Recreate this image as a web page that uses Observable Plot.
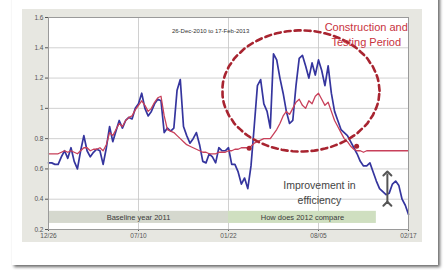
<!DOCTYPE html>
<html><head><meta charset="utf-8">
<script src="https://cdn.jsdelivr.net/npm/d3@7"></script>
<script src="https://cdn.jsdelivr.net/npm/@observablehq/plot@0.6"></script>
<style>
body{margin:0;background:#fff;font-family:"Liberation Sans",Arial,sans-serif}
#wrap{position:relative;width:444px;height:270px;overflow:hidden}
#photo{position:absolute;left:12px;top:-6px;width:426px;height:271px;background:#fff;box-shadow:2px 2px 3px rgba(0,0,0,0.6)}
#panel{position:absolute;left:22px;top:9px;width:400px;height:233px;background:#e7e7e1}
#chart{position:absolute;left:0;top:0}
</style></head>
<body>
<div id="wrap"><div id="photo"></div><div id="panel"></div><div id="chart"></div></div>
<script>
// weekly series, 26-Dec-2010 .. 17-Feb-2013
const startDate = "2010-12-26";
const endDate = "2013-02-17";
const actual = [0.64,0.64,0.63,0.63,0.68,0.72,0.67,0.74,0.65,0.60,
0.72,0.82,0.72,0.68,0.71,0.73,0.72,0.63,0.74,0.88,
0.78,0.85,0.92,0.87,0.92,0.94,0.93,1.00,1.03,1.10,
1.00,0.95,0.98,1.03,1.06,1.05,0.84,0.87,0.85,0.87,
1.12,1.19,0.88,0.82,0.77,0.80,0.84,0.76,0.65,0.64,
0.70,0.68,0.64,0.74,0.72,0.72,0.74,0.63,0.63,0.58,
0.50,0.54,0.47,0.62,0.88,1.15,1.19,1.03,0.98,0.87,
1.36,1.32,1.20,1.10,0.98,0.90,0.92,1.15,1.33,1.35,
1.28,1.20,1.30,1.22,1.32,1.25,1.15,1.28,1.10,0.98,
0.92,0.86,0.84,0.82,0.78,0.74,0.70,0.65,0.62,0.62,
0.64,0.58,0.52,0.47,0.45,0.43,0.44,0.50,0.52,0.49,
0.40,0.36,0.30];
const model = [0.70,0.70,0.70,0.70,0.71,0.72,0.71,0.72,0.71,0.70,
0.72,0.74,0.74,0.72,0.73,0.73,0.74,0.72,0.76,0.84,
0.82,0.86,0.90,0.88,0.92,0.94,0.95,0.99,1.02,1.05,
1.02,0.98,1.00,1.04,1.07,1.08,0.95,0.86,0.85,0.84,
0.82,0.80,0.78,0.76,0.75,0.74,0.73,0.72,0.71,0.71,
0.70,0.70,0.70,0.71,0.71,0.71,0.72,0.72,0.73,0.73,
0.74,0.74,0.74,0.75,0.77,0.78,0.79,0.80,0.80,0.80,
0.83,0.86,0.90,0.95,0.98,0.96,1.00,1.04,1.06,1.02,
1.00,1.05,1.03,1.08,1.10,1.06,1.02,1.04,0.98,0.92,
0.88,0.84,0.80,0.78,0.75,0.73,0.72,0.72,0.71,0.72,
0.72,0.72,0.72,0.72,0.72,0.72,0.72,0.72,0.72,0.72,
0.72,0.72,0.72];
const xTicks = ["2010-12-26","2011-07-10","2012-01-22","2012-08-05","2013-02-17"];
const yTicks = [0.2,0.4,0.6,0.8,1.0,1.2,1.4,1.6];
const bands = [
  {from:"2010-12-26", to:"2012-01-22", label:"Baseline year 2011", fill:"#d5d8ce"},
  {from:"2012-01-22", to:"2012-12-09", label:"How does 2012 compare", fill:"#cfdfc0"}
];
const bandRange = [0.24, 0.32];
const titleText = "26-Dec-2010 to 17-Feb-2013";
const notes = [
  {date:"2011-12-14", v:1.51, text:titleText, size:6, color:"#333"},
  {date:"2012-11-17", v:1.535, text:"Construction and", size:11, color:"#c8323e"},
  {date:"2012-11-17", v:1.435, text:"Testing Period", size:11, color:"#c8323e"},
  {date:"2012-08-07", v:0.49, text:"Improvement in", size:10.5, color:"#444"},
  {date:"2012-08-07", v:0.39, text:"efficiency", size:10.5, color:"#444"}
];
const ellipseCenter = {date:"2012-06-28", v:1.115};
const ellipseRadius = {days:171, v:0.40};
const arrowSpan = {date:"2013-01-02", from:0.37, to:0.57};
const crossings = [{date:"2012-03-07", v:0.737},{date:"2012-10-27", v:0.75}];

const D = s => new Date(s);
const t0 = D(startDate);
const series = actual.map((a,i)=>({date:d3.utcDay.offset(t0,7*i), actual:a, model:model[i]}));
const ell = d3.range(0,361,4).map(a=>{
  const r = a*Math.PI/180;
  return {date:d3.utcDay.offset(D(ellipseCenter.date), ellipseRadius.days*Math.cos(r)), v:ellipseCenter.v + ellipseRadius.v*Math.sin(r)};
});

const chart = Plot.plot({
  width:444, height:270,
  marginLeft:48, marginRight:36, marginTop:17, marginBottom:41,
  style:{background:"transparent", fontFamily:"'Liberation Sans', Arial, sans-serif", fontSize:"6.5px", color:"#555"},
  x:{type:"utc", domain:[D(startDate), D(endDate)], ticks:xTicks.map(D), tickFormat:d3.utcFormat("%m/%d"), label:null, tickSize:2, tickPadding:2},
  y:{domain:[0.2,1.6], ticks:yTicks, tickFormat:d=>String(+d.toFixed(1)), label:null, tickSize:3, tickPadding:2},
  marks:[
    Plot.frame({fill:"white", stroke:"none"}),
    Plot.ruleX(xTicks.map(D), {stroke:"#c4c4c4", strokeWidth:0.8}),
    Plot.ruleY(yTicks, {stroke:"#c4c4c4", strokeWidth:0.8}),
    Plot.rect(bands, {x1:d=>D(d.from), x2:d=>D(d.to), y1:bandRange[0], y2:bandRange[1], fill:"fill"}),
    Plot.text(bands, {x:d=>new Date((D(d.from).getTime()+D(d.to).getTime())/2), y:(bandRange[0]+bandRange[1])/2, text:"label", fontSize:7.5, fill:"#3a3a3a"}),
    Plot.line(series, {x:"date", y:"actual", stroke:"#35359e", strokeWidth:1.7}),
    Plot.line(series, {x:"date", y:"model", stroke:"#c8405a", strokeWidth:1.3}),
    Plot.line(ell, {x:"date", y:"v", stroke:"#a82430", strokeWidth:2.6, strokeDasharray:"6,4", curve:"linear"}),
    Plot.dot(crossings, {x:d=>D(d.date), y:"v", r:2.5, fill:"#a82430"}),
    Plot.link([arrowSpan], {x1:d=>D(d.date), x2:d=>D(d.date), y1:"from", y2:"to", stroke:"#555", strokeWidth:2, markerStart:"arrow", markerEnd:"arrow"}),
    ...notes.map(n=>Plot.text([n], {x:d=>D(d.date), y:"v", text:"text", fontSize:n.size, fill:n.color})),
    Plot.frame({stroke:"#9a9a9a", strokeWidth:1})
  ]
});
document.getElementById("chart").appendChild(chart);
</script>
</body></html>
